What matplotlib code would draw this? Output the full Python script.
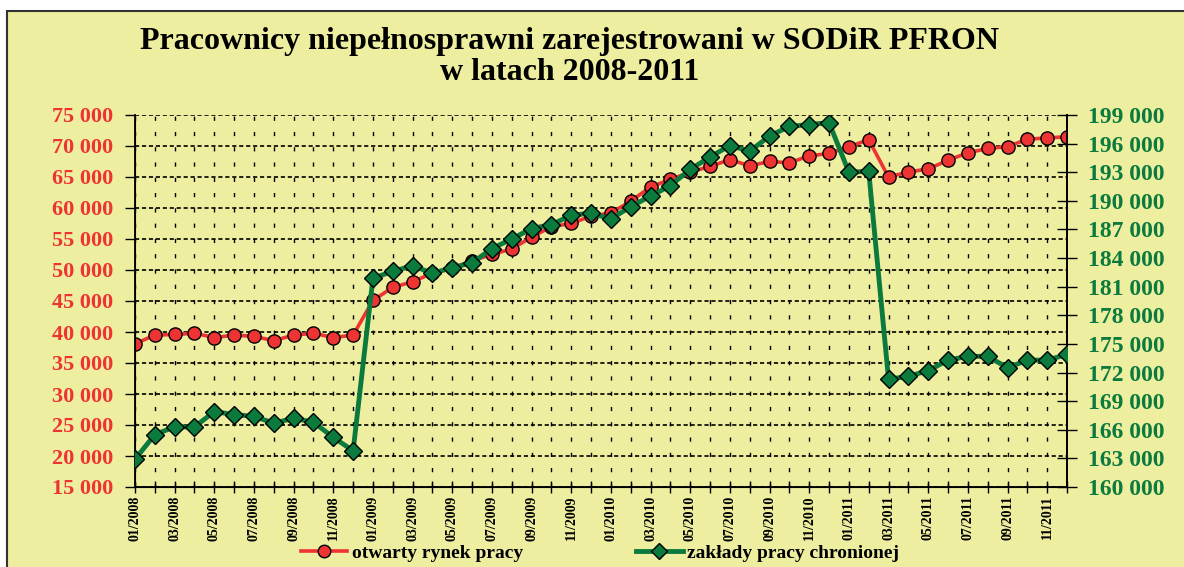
import matplotlib.pyplot as plt
from matplotlib.patches import Rectangle
from matplotlib.lines import Line2D
from matplotlib.ticker import FuncFormatter, FixedLocator

plt.rcParams['font.family'] = ['Liberation Serif', 'DejaVu Serif']
plt.rcParams['font.weight'] = 'bold'
plt.rcParams['lines.scale_dashes'] = False

# months 01/2008 .. 12/2011
months = ['01/2008', '02/2008', '03/2008', '04/2008', '05/2008', '06/2008',
          '07/2008', '08/2008', '09/2008', '10/2008', '11/2008', '12/2008',
          '01/2009', '02/2009', '03/2009', '04/2009', '05/2009', '06/2009',
          '07/2009', '08/2009', '09/2009', '10/2009', '11/2009', '12/2009',
          '01/2010', '02/2010', '03/2010', '04/2010', '05/2010', '06/2010',
          '07/2010', '08/2010', '09/2010', '10/2010', '11/2010', '12/2010',
          '01/2011', '02/2011', '03/2011', '04/2011', '05/2011', '06/2011',
          '07/2011', '08/2011', '09/2011', '10/2011', '11/2011', '12/2011']

# otwarty rynek pracy (left axis)
otwarty = [38100, 39500, 39600, 39800, 39100, 39500, 39300, 38600, 39500, 39800, 39100, 39500,
           45100, 47200, 48100, 49500, 50300, 51500, 52500, 53400, 55300, 57000, 57500, 58700,
           59200, 61100, 63400, 64600, 65800, 66700, 67800, 66800, 67500, 67300, 68400, 68800,
           69900, 71000, 65000, 65800, 66300, 67700, 68900, 69600, 69900, 71100, 71300, 71500]

# zaklady pracy chronionej (right axis)
chronionej = [162900, 165500, 166300, 166300, 167900, 167600, 167400, 166700, 167200, 166800, 165200, 163800,
              181900, 182600, 183200, 182400, 183000, 183500, 185000, 186000, 187100, 187500, 188500, 188700,
              188100, 189400, 190500, 191600, 193300, 194600, 195800, 195200, 196800, 197800, 198000, 198200,
              193000, 193100, 171300, 171600, 172200, 173300, 173700, 173700, 172500, 173300, 173300, 173900]

left_ticks = list(range(15000, 75001, 5000))
right_ticks = list(range(160000, 199001, 3000))

bg = '#EEEEA0'
red = '#EE3333'
green = '#0B7A3D'

fig = plt.figure(figsize=(11.84, 5.67), dpi=100, facecolor='white')
fig.patches.append(Rectangle((7/1184, -0.02), 1.0, 1 - 11/567 + 0.02, transform=fig.transFigure,
                             facecolor=bg, edgecolor='#333333', linewidth=1.5, zorder=-10))

ax = fig.add_axes([135/1184, 1 - 487/567, (1067 - 135)/1184, (487 - 115)/567])
ax.set_facecolor(bg)
x = list(range(len(months)))

ax.plot(x, otwarty, color=red, lw=2.6, marker='o', ms=9.5, mfc=red, mec='black', mew=1.0, zorder=3)
ax.set_xlim(0, len(months) - 1)
ax.set_ylim(15000, 75000)
ax.yaxis.set_major_locator(FixedLocator(left_ticks))
fmt = FuncFormatter(lambda v, p: f"{int(v):,}".replace(',', ' '))
ax.yaxis.set_major_formatter(fmt)
ax.tick_params(axis='y', colors='black', labelcolor=red, labelsize=16, length=7, width=1, pad=9)
ax.xaxis.set_major_locator(FixedLocator(x))
ax.set_xticklabels([m if i % 2 == 0 else '' for i, m in enumerate(months)], rotation=90)
ax.tick_params(axis='x', direction='inout', length=8, width=1, labelsize=10, pad=2)
ax.grid(axis='y', color='black', lw=1.2, linestyle=(0, (3, 2)))
ax.grid(axis='x', color='black', lw=1.0, linestyle=(0, (3, 8)))
ax.spines['top'].set_visible(False)
for s in ['left', 'bottom', 'right']:
    ax.spines[s].set_linewidth(1.3)

ax2 = ax.twinx()
ax2.plot(x, chronionej, color=green, lw=3.5, marker='D', ms=9, mfc=green, mec='black', mew=1.0, zorder=3)
ax2.set_ylim(160000, 199000)
ax2.yaxis.set_major_locator(FixedLocator(right_ticks))
ax2.yaxis.set_major_formatter(fmt)
ax2.tick_params(axis='y', direction='inout', length=14, width=1, labelcolor=green, labelsize=17, pad=8)
ax2.spines['top'].set_visible(False)
ax2.spines['right'].set_linewidth(1.3)

fig.text(570/1184, 1 - 42/567, 'Pracownicy niepełnosprawni zarejestrowani w SODiR PFRON',
         ha='center', va='center', fontsize=23, fontweight='bold')
fig.text(570/1184, 1 - 72/567, 'w latach 2008-2011',
         ha='center', va='center', fontsize=23, fontweight='bold')

handles = [Line2D([], [], color=red, lw=2.6, marker='o', ms=9, mfc=red, mec='black'),
           Line2D([], [], color=green, lw=3.5, marker='D', ms=8.5, mfc=green, mec='black')]
fig.legend(handles, ['otwarty rynek pracy', 'zakłady pracy chronionej'], loc='center',
           bbox_to_anchor=(600/1184, 1 - 553/567), ncol=2, frameon=False, fontsize=14,
           handlelength=2.4, columnspacing=5.8, handletextpad=0.25)

fig.savefig('out.png', dpi=100, facecolor='white')
